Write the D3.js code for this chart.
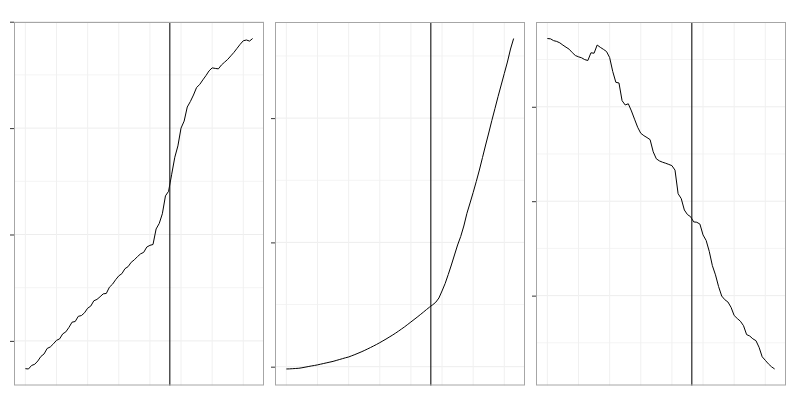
<!DOCTYPE html>
<html><head><meta charset="utf-8">
<script src="https://cdn.jsdelivr.net/npm/d3@7"></script>
<style>html,body{margin:0;padding:0;background:#fff;}svg{display:block;}</style>
</head><body>
<svg id="chart" width="800" height="400"></svg>
<script>
// Series values (x = sample index 0..73)
const series1 = [7.39,7.36,7.69,7.80,8.11,8.54,8.77,9.29,9.43,9.72,10.05,10.19,10.66,10.85,11.27,11.76,11.82,12.31,12.38,12.64,13.07,13.27,13.77,13.90,14.15,14.42,14.46,15.05,15.33,15.75,16.11,16.32,16.79,16.98,17.39,17.62,17.92,18.18,18.32,18.82,18.98,19.06,20.52,21.04,21.95,23.63,24.06,25.66,27.26,28.33,30.00,30.66,31.98,32.50,33.11,33.82,34.10,34.53,34.93,35.38,35.66,35.61,35.57,35.94,36.20,36.46,36.79,37.12,37.50,37.88,38.21,38.28,38.18,38.42];
const series2 = [98.15,98.23,98.39,98.55,98.71,99.12,99.60,100.08,100.56,100.97,101.45,102.01,102.57,103.14,103.70,104.26,104.99,105.71,106.44,107.16,107.80,108.77,109.73,110.78,111.83,112.95,114.16,115.37,116.65,117.94,119.31,120.76,122.20,123.73,125.26,126.87,128.56,130.33,132.10,134.03,135.96,137.89,139.82,141.83,143.85,145.94,147.95,149.80,151.89,155.27,160.90,166.93,174.17,181.82,189.86,197.91,204.75,213.19,223.41,231.70,240.14,248.99,258.24,268.30,278.36,288.01,298.07,307.72,317.37,326.63,335.88,345.13,355.59,364.04];
const series3 = [93.07,92.99,92.51,92.30,91.93,91.32,90.77,90.24,89.34,88.57,88.23,87.96,87.49,87.25,89.29,89.18,91.35,90.74,90.21,89.63,88.04,84.34,81.48,81.30,76.61,75.48,75.79,73.89,71.72,69.58,67.99,67.35,66.85,66.30,63.07,61.22,60.66,60.32,60.05,59.74,59.42,58.23,51.98,50.69,47.67,46.46,45.90,44.52,44.42,43.94,41.08,39.60,36.72,32.94,30.50,27.38,24.89,23.92,23.31,21.90,19.74,18.94,18.23,17.04,14.68,14.31,13.57,13.07,11.32,8.81,7.88,6.93,6.16,5.58];

const yTicks1 = [10,20,30,40];
const yTicks2 = [100,200,300];
const yTicks3 = [25,50,75];
const xGridValues = [0,10,20,30,40,50,60,70];
const markerX = 46.4;

const panels = [
  {values: series1, ticks: yTicks1, left: 14},
  {values: series2, ticks: yTicks2, left: 275},
  {values: series3, ticks: yTicks3, left: 536}
];
const pw = 250, pTop = 22, pBottom = 385.5;

const svg = d3.select("#chart");

function expand(ext){ const r = ext[1]-ext[0]; return [ext[0]-0.05*r, ext[1]+0.05*r]; }

panels.forEach(p => {
  const n = p.values.length;
  const x = d3.scaleLinear().domain(expand([0, n-1])).range([p.left, p.left+pw]);
  const y = d3.scaleLinear().domain(expand(d3.extent(p.values))).range([pBottom, pTop]);
  const g = svg.append("g");
  const [d0,d1] = y.domain();
  const step = p.ticks[1]-p.ticks[0];
  const minors = [];
  for (let v = p.ticks[0]-step/2; v <= d1; v += step) if (v >= d0) minors.push(v);
  g.selectAll(".hmin").data(minors).enter().append("line")
    .attr("x1", p.left).attr("x2", p.left+pw)
    .attr("y1", d=>y(d)).attr("y2", d=>y(d))
    .attr("stroke", "#f4f4f4").attr("stroke-width", 1);
  g.selectAll(".hmaj").data(p.ticks).enter().append("line")
    .attr("x1", p.left).attr("x2", p.left+pw)
    .attr("y1", d=>y(d)).attr("y2", d=>y(d))
    .attr("stroke", "#ededed").attr("stroke-width", 1);
  g.selectAll(".vg").data(xGridValues).enter().append("line")
    .attr("x1", d=>x(d)).attr("x2", d=>x(d))
    .attr("y1", pTop).attr("y2", pBottom)
    .attr("stroke", "#f0f0f0").attr("stroke-width", 1);
  const line = d3.line().x((d,i)=>x(i)).y(d=>y(d));
  g.append("path").datum(p.values).attr("d", line)
    .attr("fill","none").attr("stroke","#000").attr("stroke-width",1)
    .attr("stroke-linejoin","round");
  g.append("line").attr("x1", x(markerX)).attr("x2", x(markerX))
    .attr("y1", pTop).attr("y2", pBottom)
    .attr("stroke", "#111").attr("stroke-width", 1.1);
  g.append("rect").attr("x", p.left+0.5).attr("y", pTop+0.5)
    .attr("width", pw-1).attr("height", pBottom-pTop-1)
    .attr("fill","none").attr("stroke","#a6a6a6").attr("stroke-width",1);
  const axis = d3.axisLeft(y).tickValues(p.ticks).tickFormat("").tickSize(4).tickSizeOuter(0);
  const ag = g.append("g").attr("transform", `translate(${p.left},0)`).call(axis);
  ag.select(".domain").remove();
  ag.selectAll(".tick line").attr("stroke", "#333").attr("stroke-width", 1);
});
</script>
</body></html>
